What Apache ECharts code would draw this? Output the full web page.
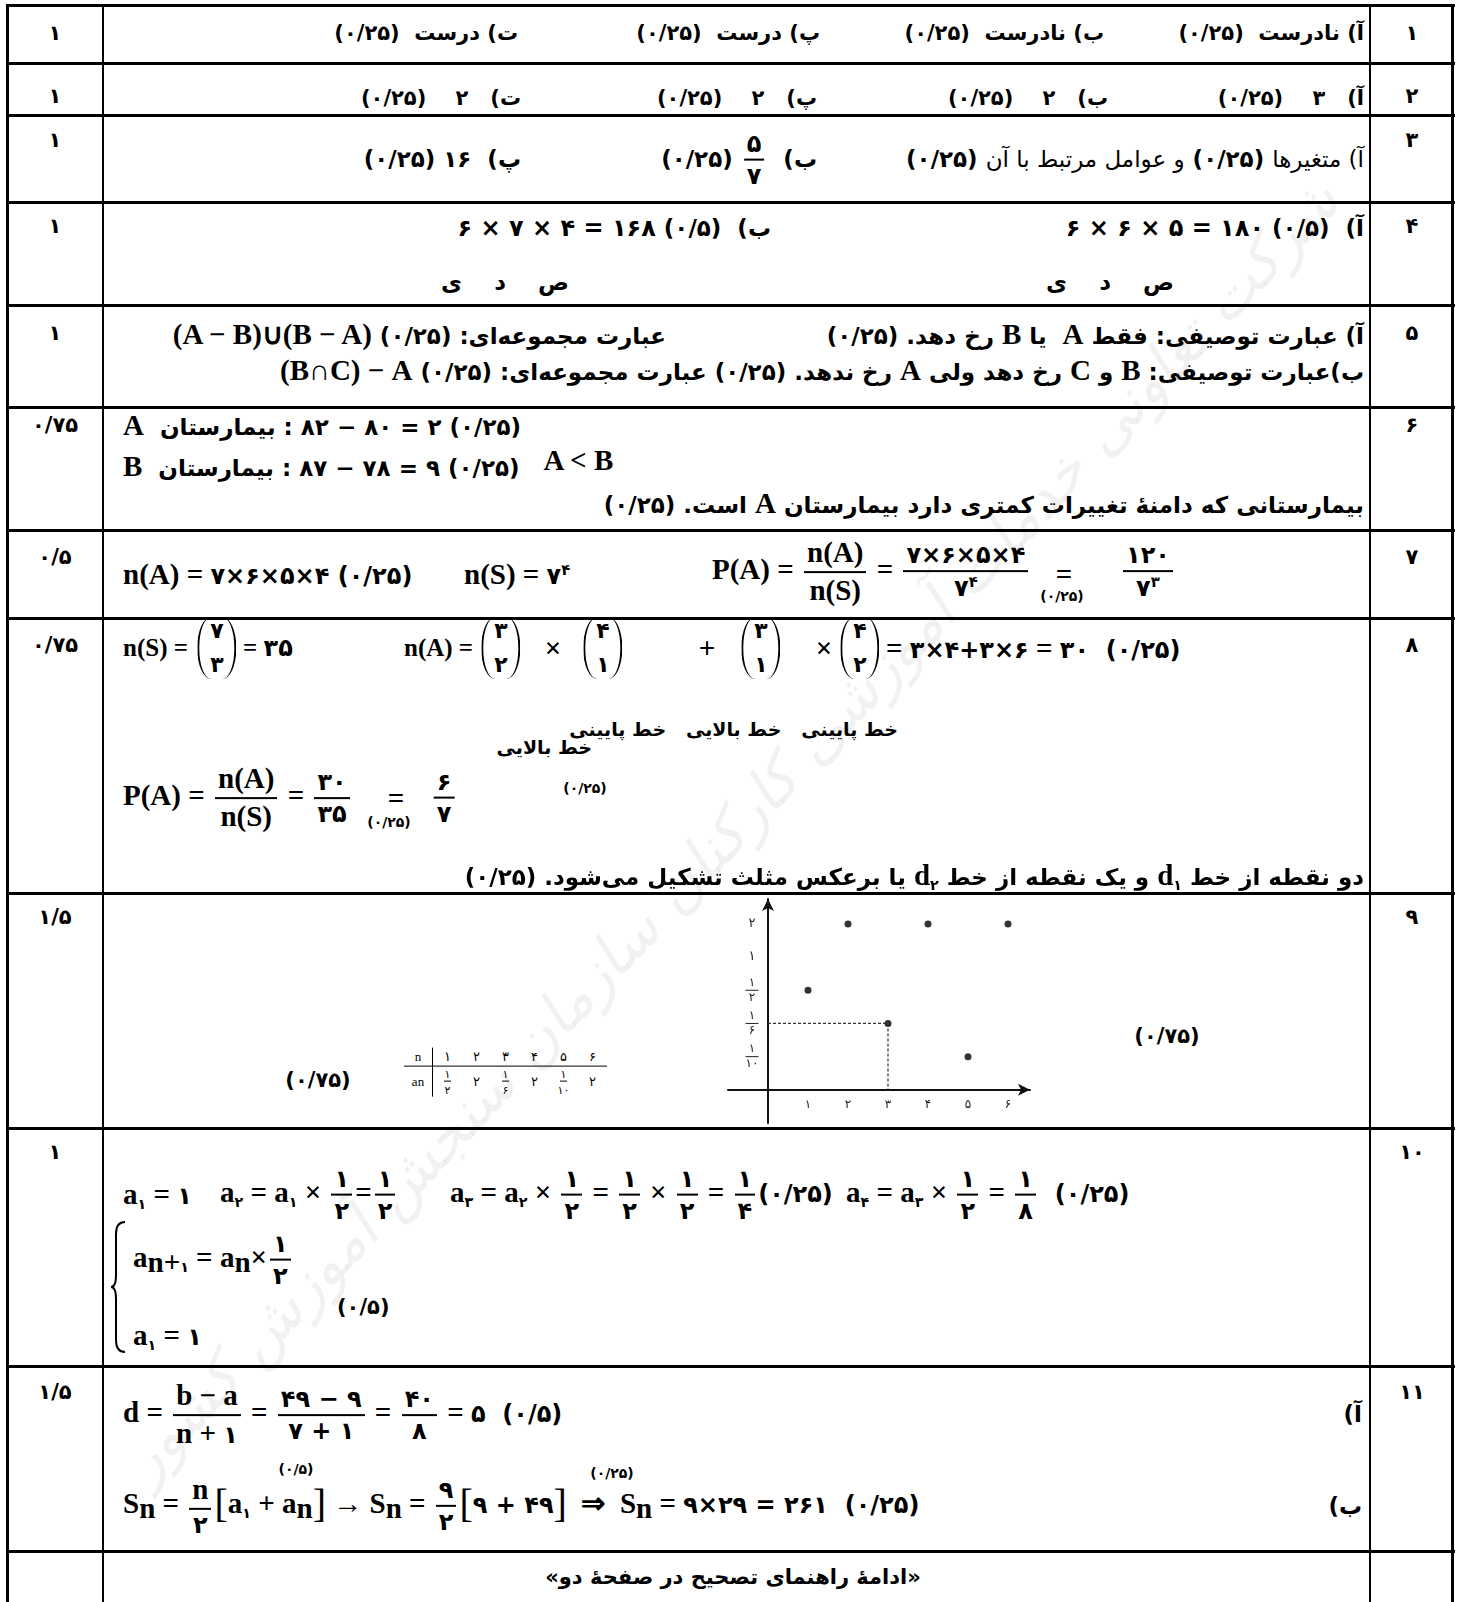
<!DOCTYPE html>
<html lang="fa">
<head>
<meta charset="utf-8">
<title>راهنمای تصحیح</title>
<script src="https://cdn.jsdelivr.net/npm/echarts@6.0.0/dist/echarts.min.js"></script>
<style>
  html, body { margin: 0; padding: 0; background: #fff; }
  #page { position: relative; width: 1459px; height: 1602px; overflow: hidden; color: #000;
          font-family: "DejaVu Sans", sans-serif; }
  .hl { position: absolute; left: 6px; width: 1449px; height: 3px; background: #000; z-index: 1; }
  .vl { position: absolute; top: 4px; height: 1600px; background: #000; z-index: 1; }
  .t { position: absolute; white-space: nowrap; font-weight: bold; font-size: 23px; line-height: 1.2; z-index: 2; }
  .s20 { font-size: 21px; }
  .s19 { font-size: 19px; }
  .rtl { direction: rtl; }
  .ltr { direction: ltr; unicode-bidi: isolate; }
  .ib { display: inline-block; }
  .L { font-family: "Liberation Serif", serif; font-weight: bold; font-size: 29px; }
  .L25 .L { font-size: 25px; }
  .M { font-size: 24px; }
  .wide { letter-spacing: 2px; }
  .big { font-size: 21px; }
  .sm { font-size: 14px; }
  .reg { font-weight: normal; }
  .fr { display: inline-flex; flex-direction: column; align-items: center; vertical-align: middle;
        line-height: 1.1; margin: 0 3px; }
  .fr > span:first-child { border-bottom: 2px solid #000; padding: 0 3px 2px; }
  .fr > span:last-child { padding-top: 2px; }
  .bn { display: inline-flex; flex-direction: column; justify-content: space-between; align-items: center;
        height: 56px; padding: 3px 11px; border-left: 2px solid #000; border-right: 2px solid #000;
        border-radius: 14px / 30px; vertical-align: middle; line-height: 1; font-size: 22px; }
  .br { font-family: "Liberation Serif", serif; font-size: 40px; font-weight: normal; vertical-align: -4px; }
  sub, sup { font-size: 62%; }
  #chart { position: absolute; left: 700px; top: 893px; width: 350px; height: 235px; z-index: 2; }
  #wm { position: absolute; left: 730px; top: 830px; transform: translate(-50%, -50%) rotate(-47deg);
        white-space: nowrap; font-size: 60px; font-style: italic; color: rgba(0, 0, 0, 0.055);
        direction: rtl; z-index: 0; }
  .mt { border-collapse: collapse; font-family: "Liberation Serif", "DejaVu Sans", serif; font-weight: normal;
        font-size: 13px; }
  .mt td { padding: 1px 0; width: 29px; text-align: center; }
  .mt td.hd { width: 28px; border-right: 1.5px solid #000; }
  .mt tr:first-child td { border-bottom: 1.5px solid #000; }
  .mt .fr > span:first-child { border-bottom: 1px solid #000; padding: 0 1px 1px; }
  .mt .fr { font-size: 11px; }
</style>
</head>
<body>
<div id="page">
  <div id="wm">شرکت تعاونی خدمات آموزشی کارکنان سازمان سنجش آموزش کشور</div>
  <div id="chart"></div>
</div>
<script>
// داده‌های نمودار سؤال ۹
var nValues = [1, 2, 3, 4, 5, 6];
var anValues = ['1/2', '2', '1/6', '2', '1/10', '2'];
var yLevels = ['1/10', '1/6', '1/2', '1', '2'];
var xTicks = [1, 2, 3, 4, 5, 6];
var guideIndex = 2;

// ستون‌های نمره و شماره سؤال
var scores = ['۱', '۱', '۱', '۱', '۱', '۰/۷۵', '۰/۵', '۰/۷۵', '۱/۵', '۱', '۱/۵'];
var qNumbers = ['۱', '۲', '۳', '۴', '۵', '۶', '۷', '۸', '۹', '۱۰', '۱۱'];

var page = document.getElementById('page');

function toFa(s) {
    return String(s).replace(/\d/g, function (d) { return '۰۱۲۳۴۵۶۷۸۹'[d]; });
}

function put(x, y, html, a, cls) {
    var d = document.createElement('div');
    d.className = 't ' + (cls || '');
    d.innerHTML = html;
    d.style.left = x + 'px';
    d.style.top = y + 'px';
    var tx = a === 'r' ? '-100%' : a === 'c' ? '-50%' : '0';
    d.style.transform = 'translate(' + tx + ',-50%)';
    page.appendChild(d);
    return d;
}
function B(s) { return '<span class="L">' + s + '</span>'; }
function M(s) { return '<span class="M">' + s + '</span>'; }
function fr(a, b) { return '<span class="fr"><span>' + a + '</span><span>' + b + '</span></span>'; }
function bn(a, b) { return '<span class="bn"><span>' + a + '</span><span>' + b + '</span></span>'; }

// خطوط جدول
var rowLines = [4, 62, 114, 201, 304, 406, 529, 617, 892, 1127, 1365, 1550];
rowLines.forEach(function (y) {
    var h = document.createElement('div');
    h.className = 'hl';
    h.style.top = y + 'px';
    page.appendChild(h);
});
[[6, 3], [102, 2], [1369, 2], [1451, 3]].forEach(function (v) {
    var e = document.createElement('div');
    e.className = 'vl';
    e.style.left = v[0] + 'px';
    e.style.width = v[1] + 'px';
    page.appendChild(e);
});

var rowY = [34, 97, 141, 227, 334, 426, 558, 646, 918, 1153, 1393];
scores.forEach(function (s, i) { put(55, rowY[i], s, 'c', 'big'); });
qNumbers.forEach(function (s, i) { put(1412, rowY[i], s, 'c', 'big'); });

// سؤال ۱
put(1364, 34, 'آ) نادرست&nbsp; (۰/۲۵)', 'r', 'rtl s20');
put(1104, 34, 'ب) نادرست&nbsp; (۰/۲۵)', 'r', 'rtl s20');
put(820, 34, 'پ) درست&nbsp; (۰/۲۵)', 'r', 'rtl s20');
put(518, 34, 'ت) درست&nbsp; (۰/۲۵)', 'r', 'rtl s20');

// سؤال ۲
put(1364, 99, 'آ)&nbsp;&nbsp; ۳&nbsp;&nbsp;&nbsp; (۰/۲۵)', 'r', 'rtl s20');
put(1108, 99, 'ب)&nbsp;&nbsp; ۲&nbsp;&nbsp;&nbsp; (۰/۲۵)', 'r', 'rtl s20');
put(817, 99, 'پ)&nbsp;&nbsp; ۲&nbsp;&nbsp;&nbsp; (۰/۲۵)', 'r', 'rtl s20');
put(521, 99, 'ت)&nbsp;&nbsp; ۲&nbsp;&nbsp;&nbsp; (۰/۲۵)', 'r', 'rtl s20');

// سؤال ۳
put(1364, 160, '<span class="reg">آ) متغیرها</span> (۰/۲۵) <span class="reg">و عوامل مرتبط با آن</span> (۰/۲۵)', 'r', 'rtl');
put(817, 160, 'ب)&nbsp; ' + fr(M('۵'), M('۷')) + ' (۰/۲۵)', 'r', 'rtl');
put(521, 160, 'پ)&nbsp; ۱۶ (۰/۲۵)', 'r', 'rtl');

// سؤال ۴
put(1364, 228, 'آ)&nbsp; (۰/۵) <span class="ltr M">۶ × ۶ × ۵ = ۱۸۰</span>', 'r', 'rtl');
put(771, 228, 'ب)&nbsp; (۰/۵) <span class="ltr M">۶ × ۷ × ۴ = ۱۶۸</span>', 'r', 'rtl');
var letters = '<span class="ib">ی</span>&nbsp;&nbsp;&nbsp;&nbsp;<span class="ib">د</span>&nbsp;&nbsp;&nbsp;&nbsp;<span class="ib">ص</span>';
put(1110, 283, letters, 'c', 'ltr');
put(505, 283, letters, 'c', 'ltr');

// سؤال ۵
put(1364, 334, 'آ) عبارت توصیفی: فقط ' + B('A') + '&nbsp; یا ' + B('B') + ' رخ دهد. (۰/۲۵)', 'r', 'rtl');
put(666, 334, 'عبارت مجموعه‌ای: (۰/۲۵) <span class="ltr">' + B('(A − B)∪(B − A)') + '</span>', 'r', 'rtl');
put(1364, 370, 'ب)عبارت توصیفی: ' + B('B') + ' و ' + B('C') + ' رخ دهد ولی ' + B('A') +
    ' رخ ندهد. (۰/۲۵) عبارت مجموعه‌ای: (۰/۲۵) <span class="ltr">' + B('(B∩C) − A') + '</span>', 'r', 'rtl');

// سؤال ۶
put(123, 425, B('A') + '&nbsp; <span class="ib">بیمارستان</span> <span class="ib">: ۸۲ − ۸۰ = ۲ (۰/۲۵)</span>', 'l', 'ltr');
put(123, 466, B('B') + '&nbsp; <span class="ib">بیمارستان</span> <span class="ib">: ۸۷ − ۷۸ = ۹ (۰/۲۵)</span>&nbsp;&nbsp; ' +
    '<span class="ib" style="transform:translateY(-6px)">' + B('A &lt; B') + '</span>', 'l', 'ltr');
put(1364, 503, 'بیمارستانی که دامنهٔ تغییرات کمتری دارد بیمارستان ' + B('A') + ' است. (۰/۲۵)', 'r', 'rtl');

// سؤال ۷
put(123, 574, B('n(A) = ') + M('۷×۶×۵×۴ (۰/۲۵)'), 'l', 'ltr');
put(464, 574, B('n(S) = ') + M('۷<sup>۴</sup>'), 'l', 'ltr');
put(712, 572, B('P(A) = ') + fr(B('n(A)'), B('n(S)')) + B(' = ') + fr(M('۷×۶×۵×۴'), M('۷<sup>۴</sup>')), 'l', 'ltr');
put(1064, 574, B('='), 'c');
put(1062, 596, '(۰/۲۵)', 'c', 'sm');
put(1148, 572, fr(M('۱۲۰'), M('۷<sup>۳</sup>')), 'c');

// سؤال ۸
put(123, 648, B('n(S) ='), 'l', 'ltr L25');
put(217, 648, bn('۷', '۳'), 'c');
put(243, 648, B('= ') + M('۳۵'), 'l', 'ltr L25');
put(404, 648, B('n(A) ='), 'l', 'ltr L25');
put(501, 648, bn('۳', '۲'), 'c');
put(553, 648, B('×'), 'c');
put(603, 648, bn('۴', '۱'), 'c');
put(707, 648, B('+'), 'c');
put(761, 648, bn('۳', '۱'), 'c');
put(824, 648, B('×'), 'c');
put(860, 648, bn('۴', '۲'), 'c');
put(886, 648, B('= ') + M('۳×۴+۳×۶') + B(' = ') + M('۳۰&nbsp; (۰/۲۵)'), 'l', 'ltr wide');
put(898, 729, 'خط پایینی&nbsp;&nbsp; خط بالایی&nbsp;&nbsp; خط پایینی', 'r', 'rtl s19');
put(592, 747, 'خط بالایی', 'r', 'rtl s19');
put(123, 798, B('P(A) = ') + fr(B('n(A)'), B('n(S)')) + B(' = ') + fr(M('۳۰'), M('۳۵')), 'l', 'ltr');
put(396, 798, B('='), 'c');
put(389, 822, '(۰/۲۵)', 'c', 'sm');
put(444, 798, fr(M('۶'), M('۷')), 'c');
put(585, 788, '(۰/۲۵)', 'c', 'sm');
put(1364, 876, 'دو نقطه از خط ' + B('d') + '<sub>۱</sub> و یک نقطه از خط ' + B('d') +
    '<sub>۲</sub> یا برعکس مثلث تشکیل می‌شود. (۰/۲۵)', 'r', 'rtl');

// سؤال ۹ - جدول کوچک
function frac(s) {
    if (s.indexOf('/') < 0) return toFa(s);
    var p = s.split('/');
    return fr(toFa(p[0]), toFa(p[1]));
}
var mt = '<table class="mt"><tr><td class="hd">n</td>' +
    nValues.map(function (n) { return '<td>' + toFa(n) + '</td>'; }).join('') +
    '</tr><tr><td class="hd">an</td>' +
    anValues.map(function (a) { return '<td>' + frac(a) + '</td>'; }).join('') + '</tr></table>';
put(404, 1072, mt, 'l', 'ltr');
put(318, 1081, '(۰/۷۵)', 'c', 'big');
put(1167, 1037, '(۰/۷۵)', 'c', 'big');

// سؤال ۱۰
var half = fr(M('۱'), M('۲'));
put(123, 1195, B('a') + '<sub>۱</sub>' + B(' = ') + M('۱'), 'l', 'ltr');
put(220, 1195, B('a') + '<sub>۲</sub>' + B(' = a') + '<sub>۱</sub>' + B(' × ') + half + B('=') + half, 'l', 'ltr');
put(450, 1195, B('a') + '<sub>۳</sub>' + B(' = a') + '<sub>۲</sub>' + B(' × ') + half + B(' = ') + half + B(' × ') + half +
    B(' = ') + fr(M('۱'), M('۴')) + M('(۰/۲۵)'), 'l', 'ltr');
put(846, 1195, B('a') + '<sub>۴</sub>' + B(' = a') + '<sub>۳</sub>' + B(' × ') + half + B(' = ') + fr(M('۱'), M('۸')) +
    '&nbsp; ' + M('(۰/۲۵)'), 'l', 'ltr');
var brace = document.createElement('div');
brace.style.cssText = 'position:absolute;left:110px;top:1220px;z-index:2';
brace.innerHTML = '<svg width="18" height="134"><path d="M15 2 Q6 2 6 14 L6 55 Q6 67 1 67 Q6 67 6 79 L6 120 Q6 132 15 132" ' +
    'fill="none" stroke="#000" stroke-width="2"/></svg>';
page.appendChild(brace);
put(133, 1260, B('a') + '<sub>' + B('n+') + '۱</sub>' + B(' = a') + '<sub>' + B('n') + '</sub>' + B('×') + half, 'l', 'ltr');
put(337, 1308, '(۰/۵)', 'l', 'big');
put(133, 1336, B('a') + '<sub>۱</sub>' + B(' = ') + M('۱'), 'l', 'ltr');

// سؤال ۱۱
put(123, 1415, B('d = ') + fr(B('b − a'), B('n + ') + M('۱')) + B(' = ') + fr(M('۴۹ − ۹'), M('۷ + ۱')) +
    B(' = ') + fr(M('۴۰'), M('۸')) + B(' = ') + M('۵&nbsp; (۰/۵)'), 'l', 'ltr');
put(1362, 1415, 'آ)', 'r', 'rtl');
put(123, 1506, B('S') + '<sub>' + B('n') + '</sub>' + B(' = ') + fr(B('n'), M('۲')) + '<span class="br">[</span>' +
    B('a') + '<sub>۱</sub>' + B(' + a') + '<sub>' + B('n') + '</sub><span class="br">]</span>' + B(' → S') +
    '<sub>' + B('n') + '</sub>' + B(' = ') + fr(M('۹'), M('۲')) + '<span class="br">[</span>' + M('۹ + ۴۹') +
    '<span class="br">]</span>' + B('&nbsp; ⇒ &nbsp;S') + '<sub>' + B('n') + '</sub>' + B(' = ') +
    M('۹×۲۹ = ۲۶۱&nbsp; (۰/۲۵)'), 'l', 'ltr');
put(296, 1469, '(۰/۵)', 'c', 'sm');
put(612, 1473, '(۰/۲۵)', 'c', 'sm');
put(1362, 1507, 'ب)', 'r', 'rtl');

put(733, 1578, '«ادامهٔ راهنمای تصحیح در صفحهٔ دو»', 'c', 'rtl s20');

// نمودار نقطه‌ای
var chart = echarts.init(document.getElementById('chart'));
var points = nValues.map(function (n, i) { return [n, yLevels.indexOf(anValues[i]) + 1]; });
var gx = points[guideIndex][0], gy = points[guideIndex][1];
var guide = [[0, gy], [gx, gy], [gx, 0]];

var option = {
    animation: false,
    grid: { left: 28, right: 20, top: 6, bottom: 5, containLabel: false, outerBoundsMode: 'none' },
    xAxis: {
        type: 'value', min: -1, max: 6.55, interval: 1,
        axisLine: { onZero: true, symbol: ['none', 'arrow'], symbolSize: [9, 12], lineStyle: { color: '#111', width: 2 } },
        axisTick: { show: false },
        splitLine: { show: false },
        axisLabel: {
            margin: -24, fontSize: 12, color: '#222', fontFamily: 'DejaVu Sans',
            showMinLabel: false, showMaxLabel: false,
            formatter: function (v) { return xTicks.indexOf(v) >= 0 ? toFa(v) : ''; }
        }
    },
    yAxis: {
        type: 'value', min: -1, max: 5.75, interval: 1,
        axisLine: { onZero: true, symbol: ['none', 'arrow'], symbolSize: [9, 12], lineStyle: { color: '#111', width: 2 } },
        axisTick: { show: false },
        splitLine: { show: false },
        axisLabel: {
            margin: -24, align: 'center', color: '#222', fontFamily: 'DejaVu Sans',
            showMinLabel: false, showMaxLabel: false,
            formatter: function (v) {
                if (v < 1 || v > yLevels.length || v % 1) return '';
                var s = yLevels[v - 1];
                if (s.indexOf('/') < 0) return '{w|' + toFa(s) + '}';
                var p = s.split('/');
                return '{n|' + toFa(p[0]) + '}\n{b| }\n{d|' + toFa(p[1]) + '}';
            },
            rich: {
                n: { fontSize: 12, lineHeight: 12, align: 'center', fontFamily: 'DejaVu Sans' },
                b: { width: 13, height: 1, lineHeight: 3, backgroundColor: '#222', align: 'center' },
                d: { fontSize: 12, lineHeight: 12, align: 'center', fontFamily: 'DejaVu Sans' },
                w: { fontSize: 13, fontFamily: 'DejaVu Sans' }
            }
        }
    },
    series: [
        {
            type: 'line', data: guide, symbol: 'none', silent: true,
            lineStyle: { type: [3, 2], width: 1.2, color: '#333' }
        },
        {
            type: 'scatter', data: points, symbolSize: 7,
            itemStyle: { color: '#000' }
        }
    ]
};
chart.setOption(option);
</script>
</body>
</html>
